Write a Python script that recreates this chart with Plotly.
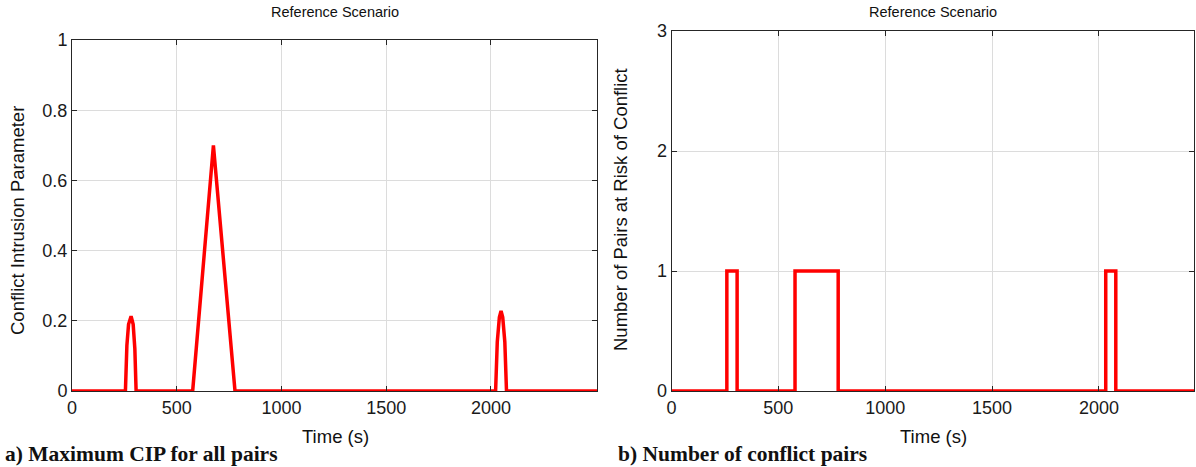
import plotly.graph_objects as go

W, H = 1196, 467

# Panel a) Maximum CIP for all pairs
cip_time = [0, 255, 262, 270, 282, 292, 300, 306, 576, 675, 778, 2022, 2030, 2040, 2048, 2056, 2066, 2074, 2506]
cip_value = [0, 0, 0.13, 0.19, 0.213, 0.19, 0.12, 0, 0, 0.70, 0, 0, 0.14, 0.21, 0.228, 0.21, 0.14, 0, 0]

# Panel b) Number of conflict pairs (step changes)
pairs_time = [0, 259, 307, 578, 780, 2032, 2079, 2445]
pairs_count = [0, 1, 0, 1, 0, 1, 0, 0]

cip_ticks = [0, 0.2, 0.4, 0.6, 0.8, 1]
cip_ticklabels = ["0", "0.2", "0.4", "0.6", "0.8", "1"]
pairs_ticks = [0, 1, 2, 3]
time_ticks = [0, 500, 1000, 1500, 2000]

RED = "#ff0000"
AX = "#262626"
GRID = "#dcdcdc"
SANS = "Liberation Sans, Arial, Helvetica, sans-serif"
SERIF = "Liberation Serif, Times New Roman, serif"

fig = go.Figure()
fig.add_trace(go.Scatter(x=cip_time, y=cip_value, mode="lines",
                         line=dict(color=RED, width=3.5), xaxis="x", yaxis="y",
                         showlegend=False))
fig.add_trace(go.Scatter(x=pairs_time, y=pairs_count, mode="lines",
                         line=dict(color=RED, width=3.5, shape="hv"), xaxis="x2", yaxis="y2",
                         showlegend=False))

def px_x(p):
    return p / W

def px_y(p):
    return 1 - p / H

common = dict(showline=True, linecolor=AX, linewidth=1, mirror="ticks",
              ticks="inside", ticklen=5, tickcolor=AX, showgrid=True,
              gridcolor=GRID, gridwidth=1, zeroline=False, automargin=False,
              tickfont=dict(family=SANS, size=18, color="#1a1a1a"))

fig.update_layout(
    width=W, height=H,
    template="none",
    margin=dict(l=0, r=0, t=0, b=0, pad=0, autoexpand=False),
    paper_bgcolor="white", plot_bgcolor="white",
    xaxis=dict(domain=[px_x(72), px_x(597)], range=[0, 2506], tickvals=time_ticks,
               anchor="y", **common),
    yaxis=dict(domain=[px_y(391), px_y(40)], range=[0, 1], tickvals=cip_ticks,
               ticktext=cip_ticklabels, anchor="x", **common),
    xaxis2=dict(domain=[px_x(671.5), px_x(1194)], range=[0, 2445], tickvals=time_ticks,
                anchor="y2", **common),
    yaxis2=dict(domain=[px_y(391), px_y(31)], range=[0, 3], tickvals=pairs_ticks,
                anchor="x2", **common),
)

ann = []
def text(x, y, s, size=16, angle=0, family=SANS, xanchor="center", bold=False):
    ann.append(dict(x=px_x(x), y=px_y(y), xref="paper", yref="paper", text=("<b>%s</b>" % s) if bold else s,
                    showarrow=False, textangle=angle, xanchor=xanchor, yanchor="middle",
                    borderpad=0,
                    font=dict(family=family, size=size, color="#111111")))

text(335, 12, "Reference Scenario", size=14.5)
text(933, 12, "Reference Scenario", size=14.5)
text(335, 436, "Time (s)", size=18.5)
text(933, 436, "Time (s)", size=18.5)
text(17, 221, "Conflict Intrusion Parameter", size=18.5, angle=-90)
text(620, 210, "Number of Pairs at Risk of Conflict", size=18.5, angle=-90)
text(4, 454, "a) Maximum CIP for all pairs", size=21.5, family=SERIF, xanchor="left", bold=True)
text(617, 454, "b) Number of conflict pairs", size=21.5, family=SERIF, xanchor="left", bold=True)
fig.update_layout(annotations=ann)

fig.write_html("out.html")
